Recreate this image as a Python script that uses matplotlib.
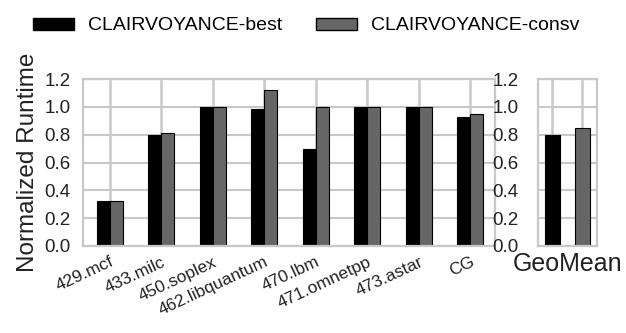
import numpy as np
import matplotlib.pyplot as plt
from matplotlib.patches import Patch

plt.rcParams['font.family'] = ['Liberation Sans', 'DejaVu Sans']

# ----------------------------
# Data
# ----------------------------
benchmarks = ["429.mcf", "433.milc", "450.soplex", "462.libquantum",
              "470.lbm", "471.omnetpp", "473.astar", "CG"]
best = [0.32, 0.80, 1.00, 0.985, 0.695, 1.00, 1.00, 0.93]
consv = [0.32, 0.815, 1.00, 1.12, 1.00, 1.00, 1.00, 0.945]

geo_labels = ["best", "consv"]
geo_values = [0.80, 0.85]

series_names = ["CLAIRVOYANCE-best", "CLAIRVOYANCE-consv"]
c_best = "#000000"
c_consv = "#666666"
grid_c = "#c8c8c8"
text_c = "#222222"

W, H = 626, 333
fig = plt.figure(figsize=(W / 100, H / 100), dpi=100)

def px_axes(x0, x1, ytop, ybot):
    return fig.add_axes([x0 / W, 1 - ybot / H, (x1 - x0) / W, (ybot - ytop) / H])

def style(ax, xpos):
    ax.set_ylim(0, 1.2)
    yt = np.arange(0, 1.21, 0.2)
    ax.set_yticks(yt)
    ax.set_yticklabels([f"{v:.1f}" for v in yt], fontsize=13.5, color=text_c)
    for s in ax.spines.values():
        s.set_color(grid_c)
        s.set_linewidth(1.6)
    ax.tick_params(axis="y", length=0, pad=9)
    ax.tick_params(axis="x", length=0)
    # grid lines
    for yv in yt:
        ax.axhline(yv, color=grid_c, linewidth=1.5, zorder=0.5)
    for xv in xpos:
        ax.axvline(xv, color=grid_c, linewidth=1.8, zorder=0.5)

# ----------------------------
# Main panel
# ----------------------------
ax = px_axes(83, 495, 79, 246)
x = np.arange(len(benchmarks))
w = 0.25
ax.bar(x - w / 2, best, w, color=c_best, edgecolor="black", linewidth=0.8, zorder=2)
ax.bar(x + w / 2, consv, w, color=c_consv, edgecolor="black", linewidth=0.8, zorder=2)
ax.set_xlim(-0.52, 7.48)
ax.set_xticks(x)
ax.set_xticklabels(benchmarks, rotation=25, ha="right", rotation_mode="anchor",
                   fontsize=12.5, color=text_c)
style(ax, x)
ax.tick_params(axis="x", pad=6)
ax.set_ylabel("Normalized Runtime", fontsize=17.5, color=text_c, labelpad=4)

# ----------------------------
# GeoMean panel
# ----------------------------
ax2 = px_axes(538, 597, 79, 246)
gx = np.arange(len(geo_values))
ax2.bar(gx, geo_values, 0.5, color=[c_best, c_consv], edgecolor="black", linewidth=0.8, zorder=2)
ax2.set_xlim(-0.47, 1.5)
ax2.set_xticks(gx)
ax2.set_xticklabels([])
style(ax2, gx)
ax2.tick_params(axis="y", pad=14)
ax2.set_xlabel("GeoMean", fontsize=18, color=text_c, labelpad=1)

# ----------------------------
# Legend
# ----------------------------
handles = [Patch(facecolor=c_best, edgecolor="black"),
           Patch(facecolor=c_consv, edgecolor="black")]
fig.legend(handles, series_names, loc="center left", bbox_to_anchor=(33 / W, 1 - 26 / H),
           ncol=2, frameon=False, fontsize=14, handlelength=2.1, handleheight=0.57,
           columnspacing=1.75, handletextpad=0.72, borderpad=0, borderaxespad=0)

fig.savefig("out.png", dpi=100)
